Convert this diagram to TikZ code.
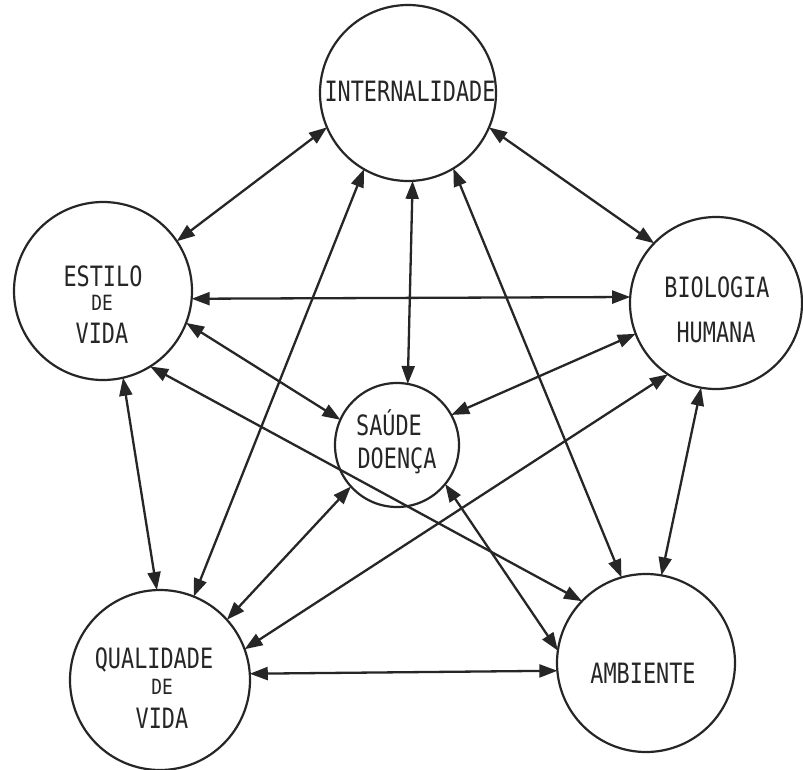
\documentclass[tikz,border=0pt]{standalone}
\usepackage{fontspec}
\usetikzlibrary{arrows.meta}
\newfontfamily\labfont[FakeStretch=0.78]{DejaVu Sans Mono}
\newfontfamily\smallfont[FakeStretch=0.85]{DejaVu Sans Mono}
\definecolor{ink}{HTML}{262626}
\begin{document}
\begin{tikzpicture}[x=1pt,y=-1pt,
  bubble/.style={circle, draw=ink, line width=2.2pt, inner sep=0pt, outer sep=0pt},
  lab/.style={anchor=base, inner sep=0pt, text=ink, font=\labfont\fontsize{28}{28}\selectfont},
  smalllab/.style={anchor=base, inner sep=0pt, text=ink, font=\smallfont\fontsize{21}{21}\selectfont},
  link/.style={draw=ink, line width=2.3pt, {Triangle[length=18pt,width=13pt]}-{Triangle[length=18pt,width=13pt]}}
]
\useasboundingbox (0,0) rectangle (803,770);
\fill[white] (0,0) rectangle (803,770);

% circles
\node[bubble, minimum size=176pt] (int) at (408,93) {};
\node[bubble, minimum size=178pt] (est) at (103,291) {};
\node[bubble, minimum size=172pt] (bio) at (716,303) {};
\node[bubble, minimum size=124pt] (sau) at (397,445) {};
\node[bubble, minimum size=180pt] (qua) at (160,680) {};
\node[bubble, minimum size=178pt] (amb) at (646,663) {};

% labels
\node[lab] (tint) at (410,102) {INTERNALIDADE};
\node[lab] (test1) at (103,286) {ESTILO};
\node[smalllab] (test2) at (102,310) {DE};
\node[lab] (test3) at (102,343) {VIDA};
\node[lab] (tbio1) at (717,297) {BIOLOGIA};
\node[lab] (tbio2) at (716,342) {HUMANA};
\node[lab] (tsau1) at (389,435) {SAÚDE};
\node[lab] (tsau2) at (397,468) {DOENÇA};
\node[lab] (tqua1) at (154,668) {QUALIDADE};
\node[smalllab] (tqua2) at (162,694) {DE};
\node[lab] (tqua3) at (162,728) {VIDA};
\node[lab] (tamb) at (643,683) {AMBIENTE};

% connectors
\draw[link] (int.203) -- (est.34.5);
\draw[link] (int.337) -- (bio.136.4);
\draw[link] (int.273) -- (sau.80);
\draw[link] (int.240) -- (qua.68);
\draw[link] (int.301.5) -- (amb.106);
\draw[link] (est.355.6) -- (bio.176.8);
\draw[link] (est.339) -- (sau.156.5);
\draw[link] (est.302) -- (amb.136);
\draw[link] (est.283) -- (qua.92);
\draw[link] (bio.201) -- (sau.29);
\draw[link] (bio.236.5) -- (qua.20.3);
\draw[link] (bio.260) -- (amb.80);
\draw[link] (sau.222) -- (qua.42.5);
\draw[link] (sau.321.6) -- (amb.172);
\draw[link] (qua.4.9) -- (amb.185.6);
\end{tikzpicture}
\end{document}
